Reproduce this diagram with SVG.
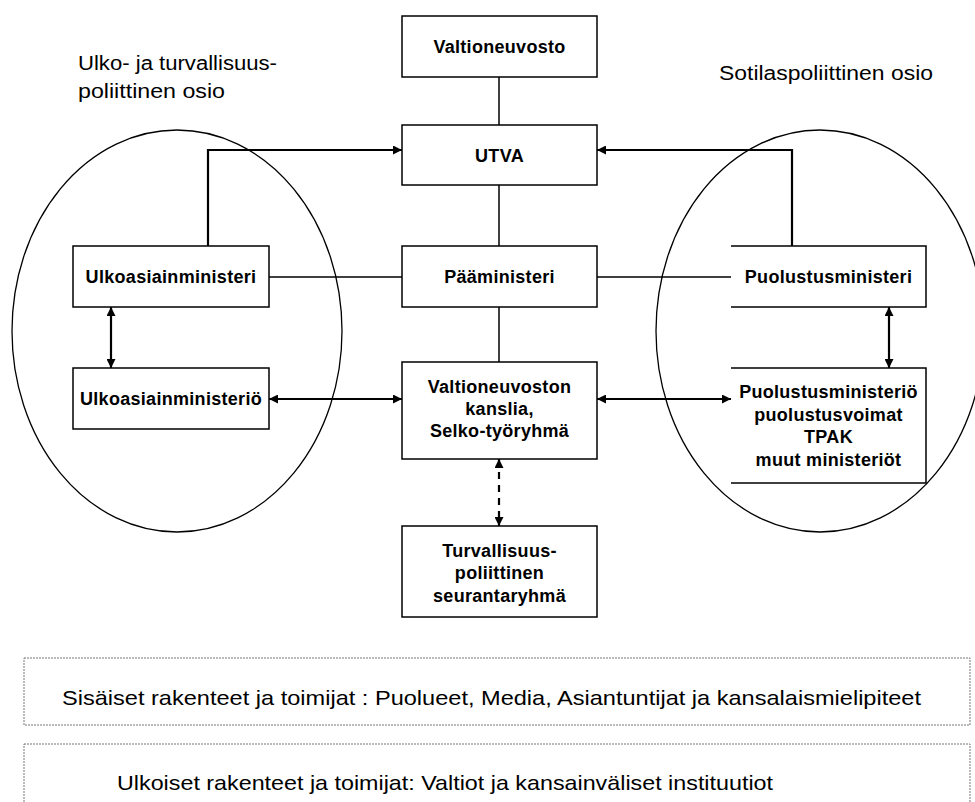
<svg xmlns="http://www.w3.org/2000/svg" width="975" height="802" viewBox="0 0 975 802">
<style>
.box{fill:#fff;stroke:#000;stroke-width:1.5}
.lbl{font-family:"Liberation Sans",Arial,sans-serif;font-weight:bold;font-size:18px;text-anchor:middle;fill:#000;letter-spacing:0.3px}
.hdr{font-family:"Liberation Sans",Arial,sans-serif;font-size:20px;fill:#000}
.foot{font-family:"Liberation Sans",Arial,sans-serif;font-size:21px;fill:#000}
.ln{fill:none;stroke:#000;stroke-width:1.5}
.ar{fill:none;stroke:#000;stroke-width:2.2}
.ell{fill:none;stroke:#000;stroke-width:1.3}
.dot{fill:none;stroke:#777;stroke-width:1;stroke-dasharray:2 1}
</style>
<defs>
<marker id="ah" viewBox="0 0 10 10" refX="10" refY="5" markerWidth="9" markerHeight="9" markerUnits="userSpaceOnUse" orient="auto-start-reverse">
<path d="M0,0 L10,5 L0,10 z" fill="#000"/>
</marker>
</defs>
<rect width="975" height="802" fill="#fff"/>

<g id="headings">
<text class="hdr" x="78" y="70" textLength="199" lengthAdjust="spacingAndGlyphs">Ulko- ja turvallisuus-</text>
<text class="hdr" x="78" y="98" textLength="147" lengthAdjust="spacingAndGlyphs">poliittinen osio</text>
<text class="hdr" x="719" y="80" textLength="214" lengthAdjust="spacingAndGlyphs">Sotilaspoliittinen osio</text>
</g>

<g id="ellipses">
<ellipse class="ell" cx="177" cy="331" rx="165" ry="201"/>
<ellipse class="ell" cx="820" cy="331" rx="164" ry="201"/>
</g>

<g id="connectors">
<line class="ln" x1="499" y1="77" x2="499" y2="125"/>
<line class="ln" x1="499" y1="185" x2="499" y2="246"/>
<line class="ln" x1="499" y1="307" x2="499" y2="362"/>
<line class="ln" x1="269" y1="277" x2="402" y2="277"/>
<line class="ln" x1="597" y1="277" x2="731" y2="277"/>
<path class="ar" d="M208,246 V150 H402" marker-end="url(#ah)"/>
<path class="ar" d="M792,246 V150 H597" marker-end="url(#ah)"/>
<line class="ar" x1="111" y1="307" x2="111" y2="368" marker-start="url(#ah)" marker-end="url(#ah)"/>
<line class="ar" x1="889" y1="307" x2="889" y2="368" marker-start="url(#ah)" marker-end="url(#ah)"/>
<line class="ar" x1="269" y1="399" x2="402" y2="399" marker-start="url(#ah)" marker-end="url(#ah)"/>
<line class="ar" x1="597" y1="399" x2="731" y2="399" marker-start="url(#ah)" marker-end="url(#ah)"/>
<line class="ar" x1="499" y1="459" x2="499" y2="526" stroke-dasharray="7 6" stroke-width="1.8" marker-start="url(#ah)" marker-end="url(#ah)"/>
</g>

<g id="valtioneuvosto">
<rect class="box" x="402" y="16" width="195" height="61"/>
<text class="lbl" x="499.5" y="53">Valtioneuvosto</text>
</g>
<g id="utva">
<rect class="box" x="402" y="125" width="195" height="60"/>
<text class="lbl" x="499.5" y="162">UTVA</text>
</g>
<g id="paaministeri">
<rect class="box" x="402" y="246" width="195" height="61"/>
<text class="lbl" x="499.5" y="283">Pääministeri</text>
</g>
<g id="kanslia">
<rect class="box" x="402" y="362" width="195" height="97"/>
<text class="lbl" x="499.5" y="393">Valtioneuvoston</text>
<text class="lbl" x="499.5" y="415">kanslia,</text>
<text class="lbl" x="499.5" y="437">Selko-työryhmä</text>
</g>
<g id="seurantaryhma">
<rect class="box" x="402" y="526" width="195" height="91"/>
<text class="lbl" x="499.5" y="557">Turvallisuus-</text>
<text class="lbl" x="499.5" y="579">poliittinen</text>
<text class="lbl" x="499.5" y="602">seurantaryhmä</text>
</g>
<g id="ulkoasiainministeri">
<rect class="box" x="73" y="246" width="196" height="61"/>
<text class="lbl" x="171" y="283">Ulkoasiainministeri</text>
</g>
<g id="ulkoasiainministerio">
<rect class="box" x="73" y="368" width="196" height="61"/>
<text class="lbl" x="171" y="405">Ulkoasiainministeriö</text>
</g>
<g id="puolustusministeri">
<path class="box" d="M731,246 H926 V307 H731"/>
<text class="lbl" x="828.5" y="283">Puolustusministeri</text>
</g>
<g id="puolustusministerio">
<path class="box" d="M731,368 H926 V483 H731"/>
<text class="lbl" x="828.5" y="398">Puolustusministeriö</text>
<text class="lbl" x="828.5" y="421">puolustusvoimat</text>
<text class="lbl" x="828.5" y="443">TPAK</text>
<text class="lbl" x="828.5" y="466">muut ministeriöt</text>
</g>

<g id="sisaiset">
<rect class="dot" x="24" y="658" width="946" height="67"/>
<text class="foot" x="62" y="705" textLength="859" lengthAdjust="spacingAndGlyphs">Sisäiset rakenteet ja toimijat : Puolueet, Media, Asiantuntijat ja kansalaismielipiteet</text>
</g>
<g id="ulkoiset">
<rect class="dot" x="24" y="744" width="946" height="70"/>
<text class="foot" x="117" y="790" textLength="656" lengthAdjust="spacingAndGlyphs">Ulkoiset rakenteet ja toimijat: Valtiot ja kansainväliset  instituutiot</text>
</g>
</svg>
